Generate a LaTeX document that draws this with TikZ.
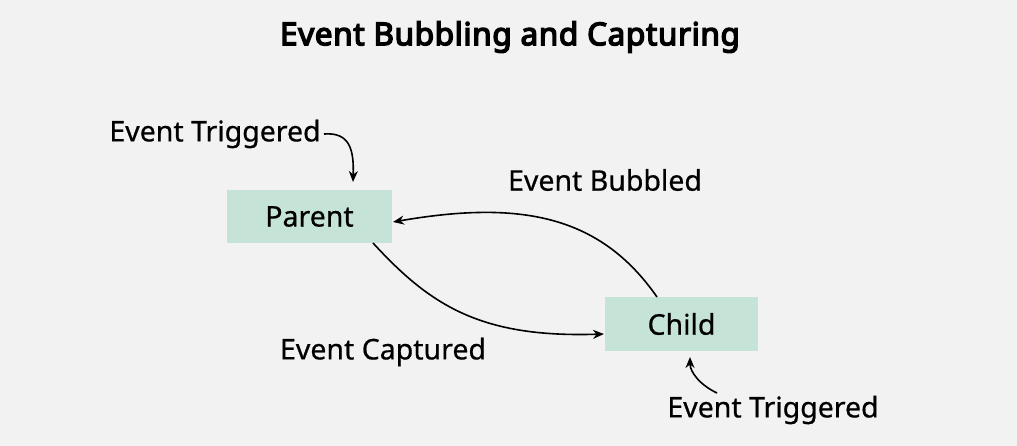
\documentclass[tikz,border=0pt]{standalone}
\usepackage{fontspec}
\setmainfont{Noto Sans}
\newfontfamily\titlefont{Noto Sans}[FakeBold=4.5,LetterSpace=2]
\newfontfamily\labelfont{Noto Sans}[FakeBold=0.6]
\usetikzlibrary{arrows.meta}
\definecolor{bg}{RGB}{242,242,242}
\definecolor{boxc}{RGB}{198,227,216}
\begin{document}
\begin{tikzpicture}[x=1pt,y=-1pt,
  lbl/.style={font=\labelfont\fontsize{28.5}{31}\selectfont, inner sep=0pt},
  boxn/.style={fill=boxc, minimum height=53pt, inner sep=0pt, font=\labelfont\fontsize{28.5}{31}\selectfont},
  conn/.style={line width=1.6pt, -{Stealth[length=11pt,width=9pt]}}]
\fill[bg] (0,0) rectangle (1017,446);
\useasboundingbox (0,0) rectangle (1017,446);
\node[font=\titlefont\fontsize{31.5}{34}\selectfont, inner sep=0pt] (title) at (510,37) {Event Bubbling and Capturing};
\node[boxn, minimum width=165pt] (parent) at (309.5,216.5) {Parent};
\node[boxn, minimum width=153pt] (child) at (681.5,324) {Child};
\node[lbl] (trig1) at (215,134) {Event Triggered};
\node[lbl] (trig2) at (773,410) {Event Triggered};
\node[lbl] (bub) at (605,180) {Event Bubbled};
\node[lbl] (cap) at (383,352) {Event Captured};
\coordinate (t1s) at (324,134);
\coordinate (t1e) at (353,182);
\draw[conn] (t1s) .. controls (350,132) and (354,150) .. (t1e);
\coordinate (t2s) at (717,393);
\coordinate (t2e) at (690,357);
\draw[conn] (t2s) .. controls (700,385) and (690,372) .. (t2e);
\coordinate (bs) at (657,297);
\coordinate (be) at (393,222);
\draw[conn] (bs) .. controls (600,215) and (520,200) .. (be);
\coordinate (cs) at (373,243);
\coordinate (ce) at (604,334);
\draw[conn] (cs) .. controls (430,305) and (480,338) .. (ce);
\end{tikzpicture}
\end{document}
